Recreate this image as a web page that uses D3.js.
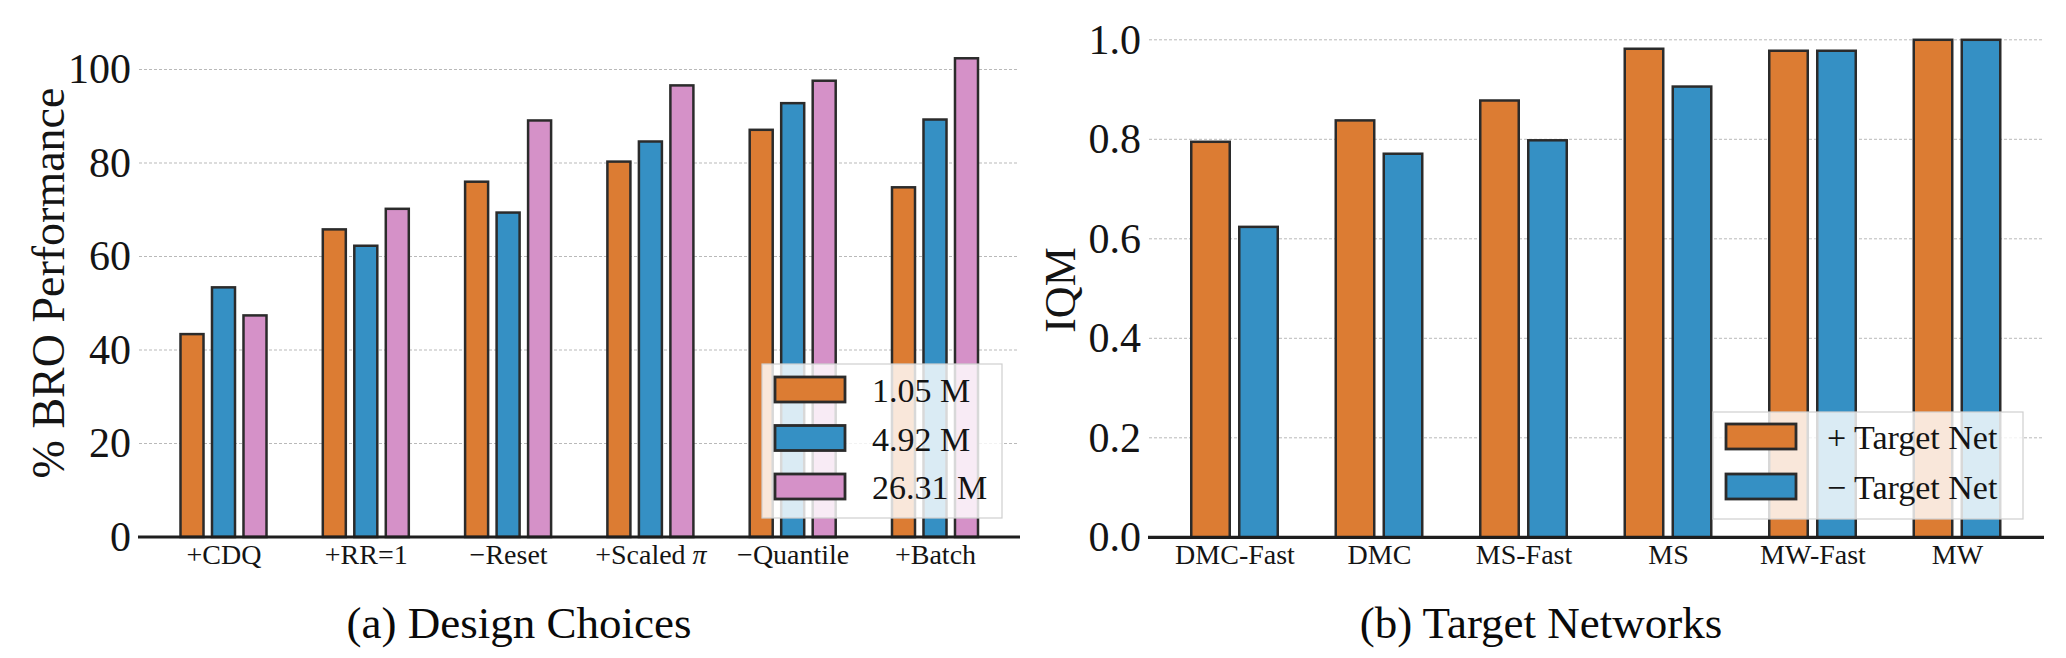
<!DOCTYPE html>
<html>
<head>
<meta charset="utf-8">
<script src="https://cdn.jsdelivr.net/npm/d3@7"></script>
<style>
  html, body { margin: 0; padding: 0; background: #fff; }
  svg { display: block; font-family: "Liberation Serif", "DejaVu Serif", serif; }
</style>
</head>
<body>
<svg id="chart" width="2066" height="658"></svg>
<script>
// ---------- Data ----------
const designChoices = ["+CDQ", "+RR=1", "\u2212Reset", "+Scaled \u03c0", "\u2212Quantile", "+Batch"];
const modelSizes = ["1.05 M", "4.92 M", "26.31 M"];
const perf105 = [43.4, 65.8, 76.0, 80.3, 87.1, 74.8];
const perf492 = [53.4, 62.3, 69.4, 84.6, 92.8, 89.3];
const perf2631 = [47.4, 70.2, 89.1, 96.6, 97.6, 102.4];
const perfTicks = [0, 20, 40, 60, 80, 100];

const benchmarks = ["DMC-Fast", "DMC", "MS-Fast", "MS", "MW-Fast", "MW"];
const targetSeries = ["+ Target Net", "\u2212 Target Net"];
const iqmWithTarget = [0.795, 0.838, 0.878, 0.982, 0.978, 1.0];
const iqmWithoutTarget = [0.624, 0.771, 0.798, 0.906, 0.978, 1.0];
const iqmTicks = [0.0, 0.2, 0.4, 0.6, 0.8, 1.0];

// ---------- Style ----------
const COLORS = ["#DC7C33", "#3590C4", "#D591C8"];
const EDGE = "#2b2b2b";
const TEXT = "#141414";
const svg = d3.select("#chart");

function drawPanel(opt) {
  const g = svg.append("g");
  const y = d3.scaleLinear().domain(opt.yDomain).range(opt.yRange);
  const x0 = d3.scalePoint().domain(opt.categories).range(opt.centerRange);
  const x1 = d3.scaleBand().domain(opt.series.map((d, i) => i))
    .range([-opt.groupSpan / 2, opt.groupSpan / 2]).paddingInner(opt.innerPad).paddingOuter(0);

  // gridlines
  g.append("g").selectAll("line").data(opt.ticks.filter(t => t !== 0)).join("line")
    .attr("x1", opt.plotX[0] + 1).attr("x2", opt.plotX[1] - 2)
    .attr("y1", d => y(d)).attr("y2", d => y(d))
    .attr("stroke", "#b9b9b9").attr("stroke-width", 1).attr("stroke-dasharray", "3,2");

  // bars
  const sw = 2.5;
  opt.values.forEach((vals, si) => {
    g.append("g").selectAll("rect").data(vals).join("rect")
      .attr("x", (d, i) => x0(opt.categories[i]) + x1(si) + sw / 2)
      .attr("width", x1.bandwidth() - sw)
      .attr("y", d => y(d))
      .attr("height", d => y(0) - y(d))
      .attr("fill", COLORS[si])
      .attr("stroke", EDGE).attr("stroke-width", sw);
  });

  // y axis (labels only)
  const ya = g.append("g").attr("transform", `translate(${opt.plotX[0]},0)`)
    .call(d3.axisLeft(y).tickValues(opt.ticks).tickFormat(opt.tickFormat).tickSize(0).tickPadding(7));
  ya.select(".domain").remove();
  ya.selectAll("text").attr("font-size", 42).attr("fill", TEXT)
    .attr("font-family", "Liberation Serif");

  // x axis labels
  const xa = g.append("g").attr("transform", `translate(0,${y(0)})`)
    .call(d3.axisBottom(x0).tickSize(0).tickPadding(7));
  xa.select(".domain").remove();
  xa.selectAll("text").attr("font-size", 28).attr("fill", TEXT)
    .attr("font-family", "Liberation Serif")
    .each(function(d) {
      const t = d3.select(this);
      if (d.indexOf("\u03c0") >= 0) {
        t.text(null);
        const parts = d.split("\u03c0");
        t.append("tspan").text(parts[0]);
        t.append("tspan").attr("font-style", "italic").text("\u03c0");
      }
    });

  // bottom spine
  g.append("line").attr("x1", opt.plotX[0]).attr("x2", opt.plotX[1])
    .attr("y1", y(0)).attr("y2", y(0))
    .attr("stroke", "#1e1e1e").attr("stroke-width", 3.2);

  // y label
  g.append("text")
    .attr("transform", `translate(${opt.yLabelPos[0]},${opt.yLabelPos[1]}) rotate(-90)`)
    .attr("text-anchor", "middle").attr("font-size", opt.yLabelSize).attr("fill", TEXT)
    .text(opt.yLabel);

  // legend
  const L = opt.legend;
  const lg = g.append("g");
  lg.append("rect").attr("x", L.x).attr("y", L.y).attr("width", L.w).attr("height", L.h)
    .attr("fill", "#fff").attr("fill-opacity", 0.82)
    .attr("stroke", "#cfcfcf").attr("stroke-width", 1.2);
  opt.series.forEach((s, i) => {
    const yy = L.y + L.firstRow + i * L.rowStep;
    lg.append("rect").attr("x", L.x + 13).attr("y", yy).attr("width", 70).attr("height", 25)
      .attr("fill", COLORS[i]).attr("stroke", EDGE).attr("stroke-width", 2.8);
    lg.append("text").attr("x", L.x + L.textDx).attr("y", yy + 25)
      .attr("font-size", 34).attr("fill", TEXT).text(s);
  });

  // caption
  g.append("text").attr("x", opt.caption[0]).attr("y", opt.caption[1])
    .attr("text-anchor", "middle").attr("font-size", 45).attr("fill", "#0a0a0a")
    .text(opt.captionText);
}

drawPanel({
  categories: designChoices,
  series: modelSizes,
  values: [perf105, perf492, perf2631],
  ticks: perfTicks,
  tickFormat: d3.format("d"),
  yDomain: [0, 100], yRange: [537, 69.5],
  plotX: [138, 1020],
  centerRange: [223.5, 935],
  groupSpan: 88.5, innerPad: 0.19,
  yLabel: "% BRO Performance", yLabelPos: [64, 283], yLabelSize: 46,
  legend: { x: 762, y: 364, w: 240, h: 154, firstRow: 13, rowStep: 48.5, textDx: 110 },
  caption: [519, 638], captionText: "(a) Design Choices"
});

drawPanel({
  categories: benchmarks,
  series: targetSeries,
  values: [iqmWithTarget, iqmWithoutTarget],
  ticks: iqmTicks,
  tickFormat: d3.format(".1f"),
  yDomain: [0, 1], yRange: [537.3, 39.8],
  plotX: [1148, 2044],
  centerRange: [1234.5, 1957],
  groupSpan: 89, innerPad: 0.146,
  yLabel: "IQM", yLabelPos: [1075, 290], yLabelSize: 44,
  legend: { x: 1713, y: 412, w: 310, h: 107, firstRow: 12, rowStep: 50, textDx: 114 },
  caption: [1541, 638], captionText: "(b) Target Networks"
});
</script>
</body>
</html>
